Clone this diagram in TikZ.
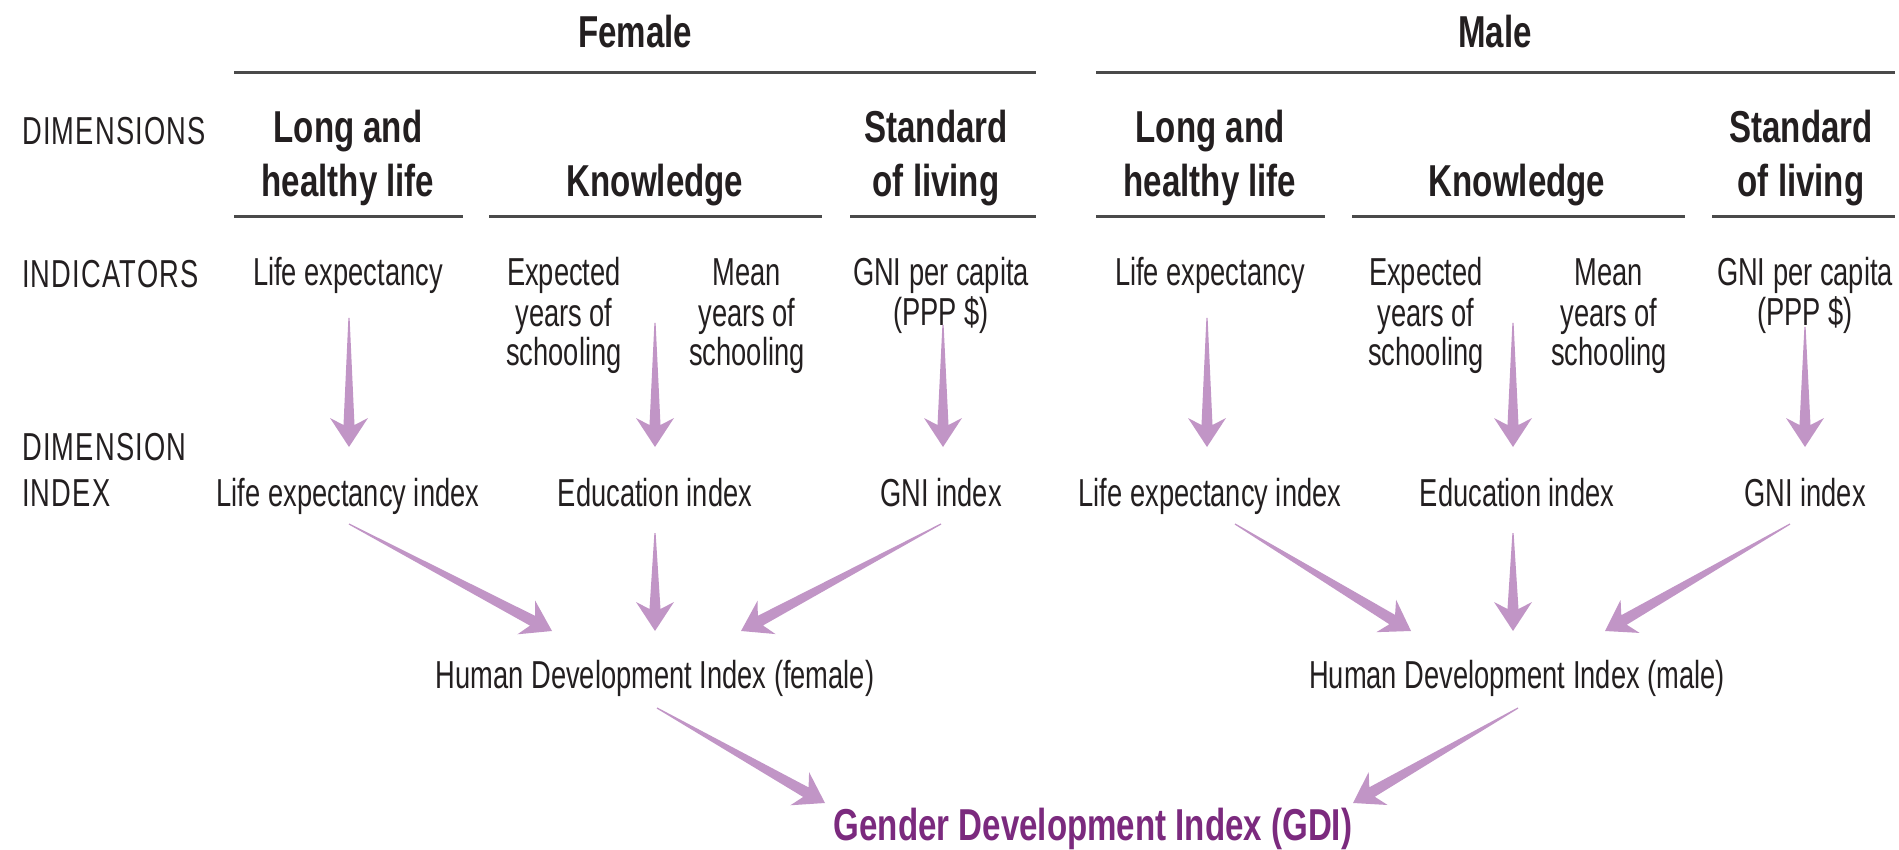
\documentclass[tikz,border=0pt]{standalone}
\usepackage{fontspec}
\usetikzlibrary{calc}
\newfontfamily\regf{Liberation Sans}[FakeStretch=0.70]
\newfontfamily\boldf{Liberation Sans}[FakeStretch=0.74]
\definecolor{arrowcol}{HTML}{C195C6}
\definecolor{gdicol}{HTML}{7B2A7E}
\definecolor{txt}{HTML}{231F20}
\definecolor{rulecol}{HTML}{4A4A4A}
\tikzset{
  reg/.style={font={\regf\fontsize{39}{40}\selectfont}, text=txt, inner sep=0pt, anchor=base, align=center},
  hdr/.style={font={\boldf\bfseries\fontsize{44.7}{54}\selectfont}, text=txt, inner sep=0pt, anchor=base, align=center},
  rowlabel/.style={reg, anchor=base west, align=left, font={\regf\fontsize{39}{40}\selectfont\addfontfeatures{LetterSpace=3}}},
  gdistyle/.style={hdr, text=gdicol},
  rulel/.style={draw=rulecol, line width=3pt},
}
% wedge arrow: #1 start coordinate, #2 tip coordinate
\newcommand\wedgearrow[2]{%
  \path ($(#2)!22pt!(#1)$) coordinate (wa-j) ($(#2)!29pt!(#1)$) coordinate (wa-b);
  \fill[arrowcol] ($(#1)!0.6pt!90:(#2)$) -- ($(wa-j)!5.5pt!-90:(#1)$) -- ($(wa-b)!19pt!-90:(#1)$) -- (#2)
     -- ($(wa-b)!19pt!90:(#1)$) -- ($(wa-j)!5.5pt!90:(#1)$) -- ($(#1)!0.6pt!-90:(#2)$) -- cycle;
}
\begin{document}
\begin{tikzpicture}[x=1pt, y=-1pt]
\useasboundingbox (0,0) rectangle (1899,850);

% titles
\node[hdr] (female) at (635,48) {Female};
\node[hdr] (male) at (1495,48) {Male};
\draw[rulel] (234,73) -- (1036,73);
\draw[rulel] (1096,73) -- (1895,73);

% row labels (base anchor = last line)
\node[rowlabel] (lbldim) at (22,145) {DIMENSIONS};
\node[rowlabel] (lblind) at (22,288) {INDICATORS};
\node[rowlabel] (lbldi) at (22,506) {DIMENSION\\[6pt]INDEX};

% dimensions
\node[hdr] (fdl) at (348,197) {Long and\\healthy life};
\node[hdr] (fdk) at (655,197) {Knowledge};
\node[hdr] (fds) at (936,197) {Standard\\of living};
\node[hdr] (mdl) at (1210,197) {Long and\\healthy life};
\node[hdr] (mdk) at (1517,197) {Knowledge};
\node[hdr] (mds) at (1801,197) {Standard\\of living};
\draw[rulel] (234,217) -- (463,217);
\draw[rulel] (489,217) -- (822,217);
\draw[rulel] (850,217) -- (1036,217);
\draw[rulel] (1096,217) -- (1325,217);
\draw[rulel] (1352,217) -- (1685,217);
\draw[rulel] (1712,217) -- (1895,217);

% indicators
\node[reg] (fil) at (348,286) {Life expectancy};
\node[reg] (fie) at (564,366) {Expected\\years of\\schooling};
\node[reg] (fim) at (747,366) {Mean\\years of\\schooling};
\node[reg] (fig) at (941,326) {GNI per capita\\(PPP \$)};
\node[reg] (mil) at (1210,286) {Life expectancy};
\node[reg] (mie) at (1426,366) {Expected\\years of\\schooling};
\node[reg] (mim) at (1609,366) {Mean\\years of\\schooling};
\node[reg] (mig) at (1805,326) {GNI per capita\\(PPP \$)};

% dimension indices
\node[reg] (fxl) at (348,506) {Life expectancy index};
\node[reg] (fxe) at (655,506) {Education index};
\node[reg] (fxg) at (941,506) {GNI index};
\node[reg] (mxl) at (1210,506) {Life expectancy index};
\node[reg] (mxe) at (1517,506) {Education index};
\node[reg] (mxg) at (1805,506) {GNI index};

% HDI and GDI
\node[reg] (fhdi) at (655,688) {Human Development Index (female)};
\node[reg] (mhdi) at (1517,688) {Human Development Index (male)};
\node[gdistyle] (gdi) at (1093,840) {Gender Development Index (GDI)};

% arrow end points
\coordinate (a1s) at (349,318); \coordinate (a1t) at (349,447);
\coordinate (a2s) at (655,323); \coordinate (a2t) at (655,447);
\coordinate (a3s) at (943,325); \coordinate (a3t) at (943,447);
\coordinate (a4s) at (1207,318); \coordinate (a4t) at (1207,447);
\coordinate (a5s) at (1513,323); \coordinate (a5t) at (1513,447);
\coordinate (a6s) at (1805,327); \coordinate (a6t) at (1805,447);

\coordinate (b1s) at (349,524); \coordinate (b1t) at (552,631);
\coordinate (b2s) at (655,533); \coordinate (b2t) at (655,631);
\coordinate (b3s) at (941,524); \coordinate (b3t) at (741,631);
\coordinate (b4s) at (1235,524); \coordinate (b4t) at (1411,631);
\coordinate (b5s) at (1513,533); \coordinate (b5t) at (1513,631);
\coordinate (b6s) at (1790,524); \coordinate (b6t) at (1605,631);

\coordinate (c1s) at (657,708); \coordinate (c1t) at (825,803);
\coordinate (c2s) at (1518,708); \coordinate (c2t) at (1353,803);

\wedgearrow{a1s}{a1t}
\wedgearrow{a2s}{a2t}
\wedgearrow{a3s}{a3t}
\wedgearrow{a4s}{a4t}
\wedgearrow{a5s}{a5t}
\wedgearrow{a6s}{a6t}
\wedgearrow{b1s}{b1t}
\wedgearrow{b2s}{b2t}
\wedgearrow{b3s}{b3t}
\wedgearrow{b4s}{b4t}
\wedgearrow{b5s}{b5t}
\wedgearrow{b6s}{b6t}
\wedgearrow{c1s}{c1t}
\wedgearrow{c2s}{c2t}
\end{tikzpicture}
\end{document}
